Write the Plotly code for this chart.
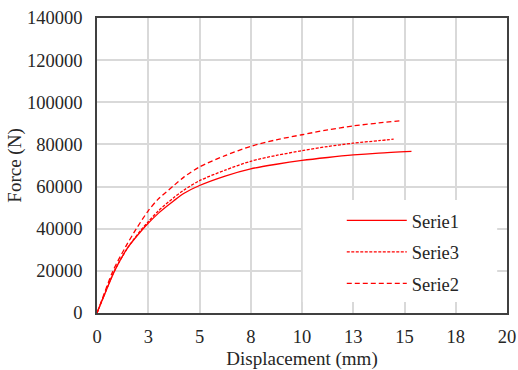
import plotly.graph_objects as go
import plotly.io as pio
pio.templates.default = "none"

serie1_x = [0, 0.25, 0.86, 1.5, 2.25, 2.5, 3.0, 3.75, 4.25, 5, 6.25, 7.5, 8.75, 10, 11.25, 12.5, 13.75, 15.34]
serie1_y = [0, 6000, 20000, 31000, 40000, 42600, 47400, 53300, 56800, 60500, 65000, 68400, 70600, 72400, 73800, 75000, 75900, 76700]

serie3_x = [0, 0.25, 0.85, 1.5, 2.2, 2.5, 3.0, 3.75, 4.25, 5, 6.25, 7.5, 8.75, 10, 11.25, 12.5, 13.75, 14.47]
serie3_y = [0, 6000, 20000, 31000, 40000, 43300, 48500, 54800, 58400, 62800, 67800, 72000, 74800, 77000, 79000, 80600, 81800, 82500]

serie2_x = [0, 0.25, 0.78, 1.4, 1.92, 2.5, 2.96, 3.75, 4.25, 5, 6.25, 7.5, 8.75, 10, 11.25, 12.5, 13.75, 14.85]
serie2_y = [0, 6500, 20000, 31500, 40000, 48500, 53800, 60500, 64600, 69300, 74700, 79100, 82200, 84600, 86900, 88800, 90200, 91300]

x_tickvals = [0, 2.5, 5, 7.5, 10, 12.5, 15, 17.5, 20]
x_ticktext = ["0", "3", "5", "8", "10", "13", "15", "18", "20"]
y_tickvals = [0, 20000, 40000, 60000, 80000, 100000, 120000, 140000]

FONT = "Liberation Serif"
RED = "#ff0000"
TXT = "#262626"
FS = 18.5

fig = go.Figure()
series = [
    ("Serie1", serie1_x, serie1_y, "solid"),
    ("Serie3", serie3_x, serie3_y, "3px,1.5px"),
    ("Serie2", serie2_x, serie2_y, "5px,3px"),
]
for name, xs, ys, dash in series:
    fig.add_trace(go.Scatter(
        x=xs, y=ys, name=name, mode="lines", legendgroup=name,
        line=dict(color=RED, width=1.3, dash=dash, shape="spline", smoothing=0.8),
    ))

fig.update_layout(
    # white legend panel that hides the gridlines, as in the reference
    shapes=[dict(type="rect", xref="paper", yref="paper",
                 x0=0.502, x1=0.976, y0=0.037, y1=0.383,
                 fillcolor="#ffffff", line=dict(width=0), layer="above")],
    width=518, height=370,
    margin=dict(l=97, r=11, t=18, b=57),
    paper_bgcolor="white", plot_bgcolor="white",
    font=dict(family=FONT, size=FS, color=TXT),
    showlegend=True,
    legend=dict(
        x=0.597, y=0.377, xanchor="left", yanchor="top",
        bgcolor="rgba(255,255,255,0)", borderwidth=0,
        font=dict(family=FONT, size=FS, color=TXT),
        itemwidth=60, tracegroupgap=4.5,
    ),
    xaxis=dict(
        range=[0, 20], tickvals=x_tickvals, ticktext=x_ticktext,
        showgrid=True, gridcolor="#d9d9d9", gridwidth=1.5,
        showline=True, linecolor="#404040", linewidth=1.5, mirror=True,
        zeroline=False, ticks="", automargin=False, ticklabelstandoff=6,
        tickfont=dict(family=FONT, size=FS, color=TXT),
        title=dict(text="Displacement (mm)", font=dict(family=FONT, size=19, color=TXT), standoff=8),
    ),
    yaxis=dict(
        range=[0, 140000], tickvals=y_tickvals, tickformat="d",
        showgrid=True, gridcolor="#d9d9d9", gridwidth=1.5,
        showline=True, linecolor="#404040", linewidth=1.5, mirror=True,
        zeroline=False, ticks="", automargin=False, ticklabelstandoff=9,
        tickfont=dict(family=FONT, size=FS, color=TXT),
        title=dict(text="Force (N)", font=dict(family=FONT, size=19, color=TXT), standoff=0),
    ),
)

fig.write_html("out.html")
